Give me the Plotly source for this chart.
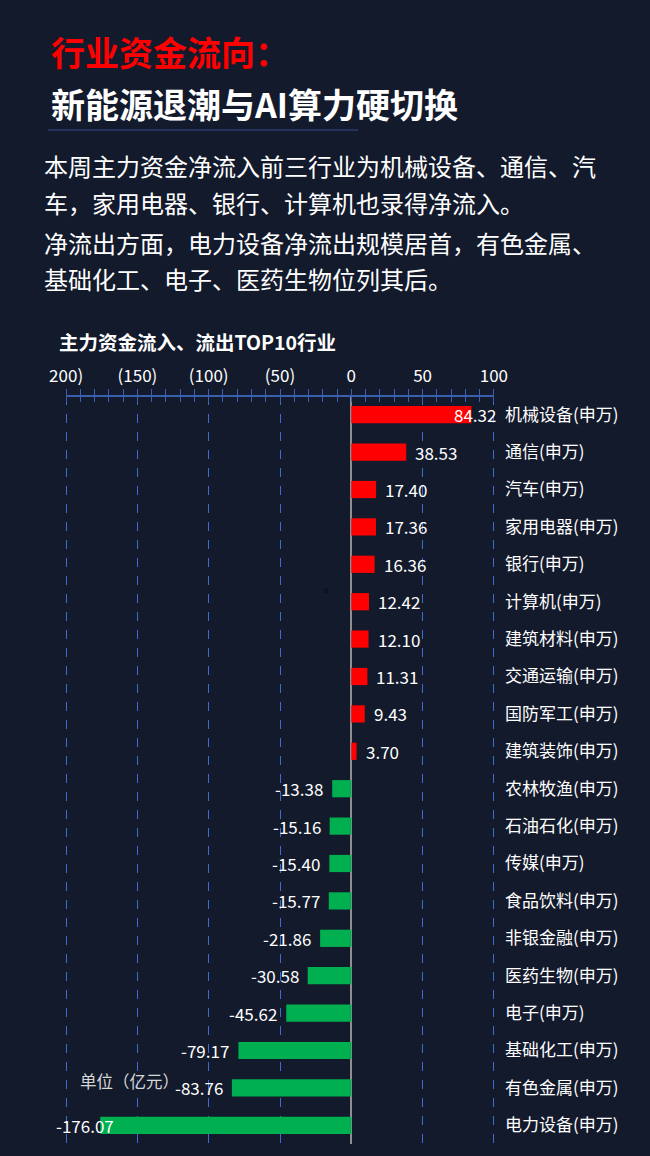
import plotly.graph_objects as go

categories = ["机械设备(申万)", "通信(申万)", "汽车(申万)", "家用电器(申万)", "银行(申万)",
              "计算机(申万)", "建筑材料(申万)", "交通运输(申万)", "国防军工(申万)", "建筑装饰(申万)",
              "农林牧渔(申万)", "石油石化(申万)", "传媒(申万)", "食品饮料(申万)", "非银金融(申万)",
              "医药生物(申万)", "电子(申万)", "基础化工(申万)", "有色金属(申万)", "电力设备(申万)"]
values = [84.32, 38.53, 17.40, 17.36, 16.36, 12.42, 12.10, 11.31, 9.43, 3.70,
          -13.38, -15.16, -15.40, -15.77, -21.86, -30.58, -45.62, -79.17, -83.76, -176.07]
tick_values = [-200, -150, -100, -50, 0, 50, 100]
tick_labels = ["200)", "(150)", "(100)", "(50)", "0", "50", "100"]

FONT = "Noto Sans CJK SC"
W, H = 650, 1156
ML, MR, MT, MB = 64, 154, 396, 12
PW, PH = W - ML - MR, H - MT - MB
RED = "#ff0000"
GREEN = "#00b050"
AXIS_BLUE = "#3a5fae"
GRID_BLUE = "#3e6bd0"
PAD = 1.5

colors = [RED if v >= 0 else GREEN for v in values]

fig = go.Figure()
fig.add_trace(go.Bar(
    x=values, y=categories, orientation="h", marker=dict(color=colors, line=dict(width=0)),
    width=0.46, hoverinfo="skip", showlegend=False,
))
# invisible trace to make the overlay axis render
fig.add_trace(go.Scatter(x=[0], y=[categories[0]], xaxis="x2", mode="markers",
                         marker=dict(opacity=0), hoverinfo="skip", showlegend=False))

annotations = []
xmin, xmax = min(tick_values), max(tick_values)
for i, (c, v) in enumerate(zip(categories, values)):
    txt = f"{v:.2f}"
    if v >= 0:
        if v > xmax * 0.8:
            anchor, shift = "center", 3
        else:
            anchor, shift = "left", 7
    else:
        if v < xmin * 0.85:
            anchor, shift = "right", 16
        else:
            anchor, shift = "right", -7
    annotations.append(dict(x=v, y=c, xref="x", yref="y", text=txt, showarrow=False,
                            xanchor=anchor, xshift=shift, yanchor="middle",
                            font=dict(family=FONT, size=17, color="#ffffff")))

def px_annot(text, x, y, size, color, bold=False, anchor="left"):
    if bold:
        text = f"<b>{text}</b>"
    return dict(text=text, x=(x - ML) / PW, y=(H - MB - y) / PH, xref="paper", yref="paper",
                xanchor=anchor, yanchor="middle", showarrow=False,
                font=dict(family=FONT, size=size, color=color))

annotations += [
    px_annot("行业资金流向：", 49, 52, 34, "#ff0000", bold=True),
    px_annot("新能源退潮与AI算力硬切换", 49, 103, 34, "#ffffff", bold=True),
    px_annot("本周主力资金净流入前三行业为机械设备、通信、汽", 42, 165, 24, "#ffffff"),
    px_annot("车，家用电器、银行、计算机也录得净流入。", 42, 202, 24, "#ffffff"),
    px_annot("净流出方面，电力设备净流出规模居首，有色金属、", 42, 242, 24, "#ffffff"),
    px_annot("基础化工、电子、医药生物位列其后。", 42, 279, 24, "#ffffff"),
    px_annot("主力资金流入、流出TOP10行业", 57, 341, 19.5, "#ffffff", bold=True),
    px_annot("单位（亿元）", 78, 1081, 16.5, "#d8d8d8"),
    px_annot("v", 322, 589, 9, "#05070c"),
]

ly = (H - MB - 130) / PH
xrange = [xmin - PAD, xmax + PAD]
fig.update_layout(
    width=W, height=H,
    paper_bgcolor="#131a2c", plot_bgcolor="rgba(0,0,0,0)",
    margin=dict(l=ML, r=MR, t=MT, b=MB),
    annotations=annotations,
    shapes=[dict(type="line", xref="paper", yref="paper", x0=(48 - ML) / PW, x1=(358 - ML) / PW,
                 y0=ly, y1=ly, line=dict(color="#24335e", width=2))],
    xaxis=dict(
        range=xrange, side="top", tickmode="array", tickvals=tick_values, ticktext=tick_labels,
        tickfont=dict(family=FONT, size=17, color="#ffffff"),
        showgrid=True, gridcolor=GRID_BLUE, griddash="dash", gridwidth=1,
        zeroline=True, zerolinecolor="#8f8f8f", zerolinewidth=2,
        showline=False,
        ticks="outside", ticklen=6, tickcolor=AXIS_BLUE, tickwidth=1,
        minor=dict(dtick=10, ticks="outside", ticklen=6, tickcolor=AXIS_BLUE, showgrid=False),
        fixedrange=True,
    ),
    xaxis2=dict(
        overlaying="x", side="top", matches="x", anchor="y", range=xrange,
        tickmode="array", tickvals=tick_values, showticklabels=False,
        showgrid=False, zeroline=False, showline=False,
        ticks="inside", ticklen=6, tickcolor=AXIS_BLUE, tickwidth=1,
        minor=dict(dtick=10, ticks="inside", ticklen=6, tickcolor=AXIS_BLUE, showgrid=False),
    ),
    yaxis=dict(
        type="category", range=[len(categories) - 0.5, -0.5], autorange=False, side="right",
        showgrid=False, zeroline=False, showline=False, ticks="",
        tickfont=dict(family=FONT, size=17, color="#ffffff"),
        ticklabelstandoff=8, fixedrange=True,
    ),
)
# axis baseline spanning the tick range
fig.add_shape(type="line", xref="x", yref="paper", x0=xmin, x1=xmax, y0=1, y1=1,
              line=dict(color=AXIS_BLUE, width=2))

fig.write_html("out.html", config={"displayModeBar": False},
               post_script="document.body.style.margin='0px';")
